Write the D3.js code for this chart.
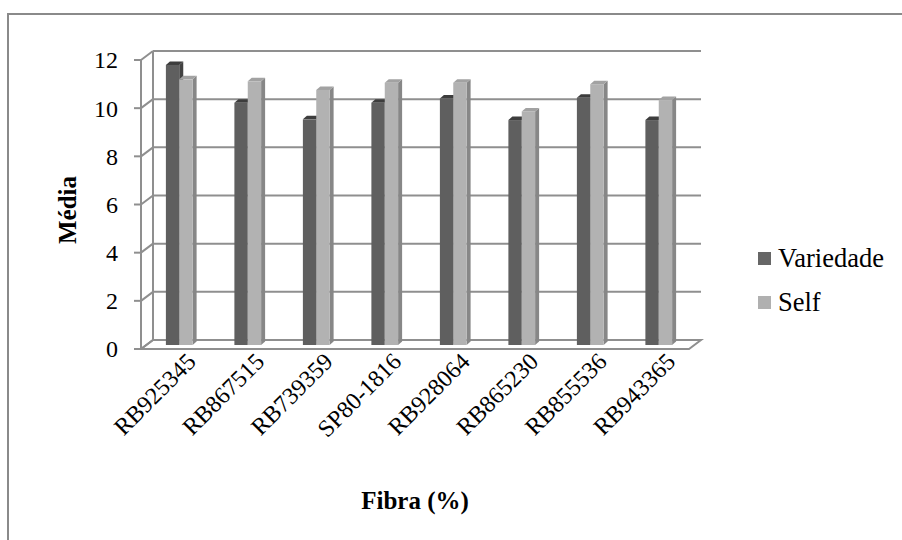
<!DOCTYPE html>
<html>
<head>
<meta charset="utf-8">
<script src="https://cdn.jsdelivr.net/npm/d3@7"></script>
<style>
  body { margin: 0; background: #fff; }
</style>
</head>
<body>
<div id="chart"></div>
<script>
var categories = ["RB925345", "RB867515", "RB739359", "SP80-1816", "RB928064", "RB865230", "RB855536", "RB943365"];
var seriesNames = ["Variedade", "Self"];
var variedadeVals = [11.63, 10.06, 9.37, 10.06, 10.24, 9.34, 10.27, 9.34];
var selfVals = [11.03, 10.95, 10.59, 10.89, 10.89, 9.70, 10.83, 10.17];
var yTicks = [0, 2, 4, 6, 8, 10, 12];

var width = 902, height = 540;
var plotLeft = 141, plotRight = 689, plotBottom = 349, plotTop = 60;
var depth = { x: 12, y: -9 };   // back wall offset
var plane = { x: 4, y: -4 };    // where the bars stand
var barDepth = { x: 4, y: -3.5 };
var serif = "'Liberation Serif', 'Times New Roman', 'DejaVu Serif', serif";

var colors = {
  Variedade: { front: "#5f5f5f", top: "#3d3d3d", side: "#424242" },
  Self: { front: "#b2b2b2", top: "#a2a2a2", side: "#878787" }
};

var svg = d3.select("#chart")
  .append("svg")
  .attr("width", width)
  .attr("height", height)
  .attr("font-family", serif);

// outer frame (runs off right and bottom edge)
svg.append("rect")
  .attr("x", 8).attr("y", 14)
  .attr("width", 920).attr("height", 560)
  .attr("fill", "none")
  .attr("stroke", "#8a8a8a")
  .attr("stroke-width", 2);

var x = d3.scaleBand()
  .domain(categories)
  .range([plotLeft, plotRight])
  .paddingInner(0.61)
  .paddingOuter(0.305);

var xs = d3.scaleBand()
  .domain(seriesNames)
  .range([0, x.bandwidth()]);

var y = d3.scaleLinear()
  .domain([0, 12])
  .range([plotBottom, plotTop]);

var grid = "#8f8f8f";

// floor
svg.append("path")
  .attr("d", "M" + plotLeft + "," + plotBottom + "L" + plotRight + "," + plotBottom +
    "L" + (plotRight + depth.x) + "," + (plotBottom + depth.y) +
    "L" + (plotLeft + depth.x) + "," + (plotBottom + depth.y) + "Z")
  .attr("fill", "#fff")
  .attr("stroke", grid)
  .attr("stroke-width", 2);

// back wall gridlines + side wall lines
var g = svg.append("g");
yTicks.forEach(function (t) {
  g.append("line")
    .attr("x1", plotLeft + depth.x).attr("x2", plotRight + depth.x)
    .attr("y1", y(t) + depth.y).attr("y2", y(t) + depth.y)
    .attr("stroke", grid).attr("stroke-width", 2);
  g.append("line")
    .attr("x1", plotLeft).attr("x2", plotLeft + depth.x)
    .attr("y1", y(t)).attr("y2", y(t) + depth.y)
    .attr("stroke", grid).attr("stroke-width", 2);
  g.append("line")
    .attr("x1", plotLeft - 7).attr("x2", plotLeft)
    .attr("y1", y(t)).attr("y2", y(t))
    .attr("stroke", grid).attr("stroke-width", 2);
  g.append("text")
    .attr("x", 118)
    .attr("y", y(t))
    .attr("dy", "0.35em")
    .attr("text-anchor", "end")
    .attr("font-family", serif)
    .attr("font-size", 24)
    .text(t);
});
// side wall verticals
g.append("line")
  .attr("x1", plotLeft).attr("x2", plotLeft)
  .attr("y1", y(12)).attr("y2", y(0))
  .attr("stroke", grid).attr("stroke-width", 2);
g.append("line")
  .attr("x1", plotLeft + depth.x).attr("x2", plotLeft + depth.x)
  .attr("y1", y(12) + depth.y).attr("y2", y(0) + depth.y)
  .attr("stroke", grid).attr("stroke-width", 2);

// bars
var rows = categories.map(function (c, i) {
  return [
    { cat: c, s: "Variedade", v: variedadeVals[i] },
    { cat: c, s: "Self", v: selfVals[i] }
  ];
});

var bars = svg.append("g");
rows.forEach(function (pair) {
  pair.forEach(function (d) {
    var x0 = x(d.cat) + xs(d.s) + plane.x;
    var x1 = x0 + xs.bandwidth();
    var y0 = y(0) + plane.y;
    var y1 = y(d.v) + plane.y;
    var c = colors[d.s];
    bars.append("path")
      .attr("d", "M" + x1 + "," + y1 + "L" + (x1 + barDepth.x) + "," + (y1 + barDepth.y) +
        "L" + (x1 + barDepth.x) + "," + (y0 + barDepth.y) + "L" + x1 + "," + y0 + "Z")
      .attr("fill", c.side);
    bars.append("path")
      .attr("d", "M" + x0 + "," + y1 + "L" + (x0 + barDepth.x) + "," + (y1 + barDepth.y) +
        "L" + (x1 + barDepth.x) + "," + (y1 + barDepth.y) + "L" + x1 + "," + y1 + "Z")
      .attr("fill", c.top);
    bars.append("rect")
      .attr("x", x0).attr("y", y1)
      .attr("width", xs.bandwidth())
      .attr("height", y0 - y1)
      .attr("fill", c.front);
  });
});

// category labels
svg.append("g")
  .selectAll("text")
  .data(categories)
  .enter()
  .append("text")
  .attr("text-anchor", "end")
  .attr("transform", function (d) {
    return "translate(" + (x(d) + x.bandwidth() / 2 + 22) + ",363) rotate(-45)";
  })
  .attr("font-family", serif)
  .attr("font-size", 24)
  .text(function (d) { return d; });

// axis titles
svg.append("text")
  .attr("x", 415)
  .attr("y", 509)
  .attr("text-anchor", "middle")
  .attr("font-family", serif)
  .attr("font-size", 25)
  .attr("font-weight", "bold")
  .text("Fibra (%)");

svg.append("text")
  .attr("transform", "translate(76,210) rotate(-90)")
  .attr("text-anchor", "middle")
  .attr("font-family", serif)
  .attr("font-size", 25)
  .attr("font-weight", "bold")
  .text("Média");

// legend
var legend = svg.append("g");
seriesNames.forEach(function (s, i) {
  legend.append("rect")
    .attr("x", 758).attr("y", 252 + i * 44)
    .attr("width", 13).attr("height", 13)
    .attr("fill", s === "Variedade" ? "#666666" : "#b0b0b0");
  legend.append("text")
    .attr("x", 778).attr("y", 267 + i * 44)
    .attr("font-family", serif)
    .attr("font-size", 26.5)
    .text(s);
});
</script>
</body>
</html>
